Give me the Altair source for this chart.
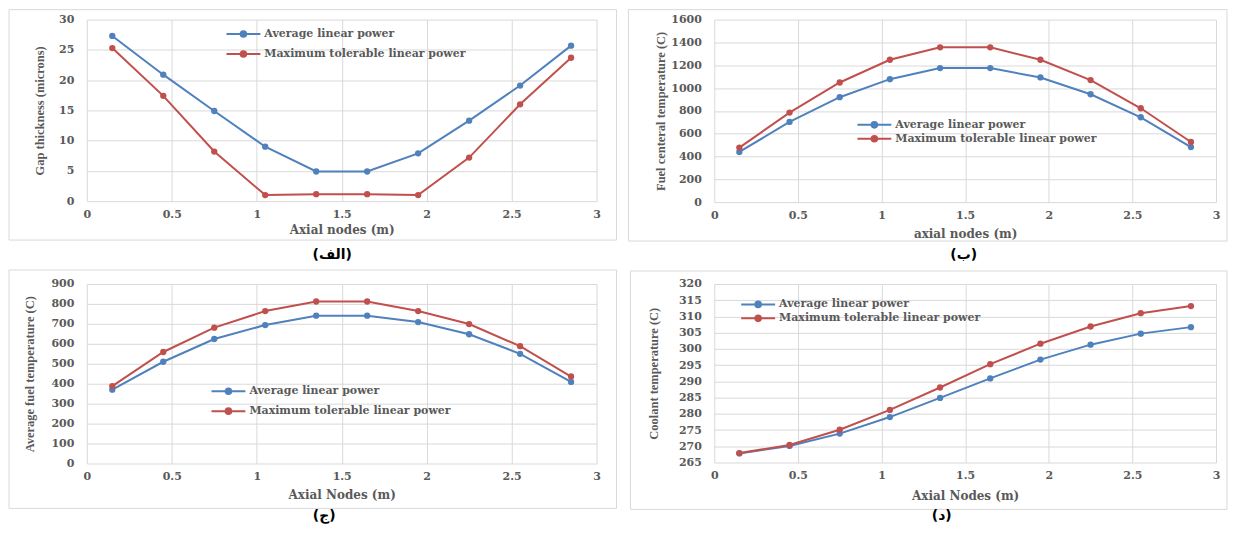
import altair as alt
import pandas as pd

# ---------------- data ----------------
x_nodes = [0.15, 0.45, 0.75, 1.05, 1.35, 1.65, 1.95, 2.25, 2.55, 2.85]
series_names = ["Average linear power", "Maximum tolerable linear power"]
series_colors = ["#4F81BD", "#C0504D"]

gap_avg = [27.3, 20.9, 14.9, 9.0, 4.9, 4.9, 7.9, 13.3, 19.1, 25.7]
gap_max = [25.3, 17.4, 8.2, 1.0, 1.15, 1.15, 1.0, 7.2, 16.0, 23.7]
center_avg = [440, 703, 920, 1078, 1175, 1175, 1093, 946, 744, 483]
center_max = [478, 785, 1049, 1248, 1357, 1357, 1248, 1070, 823, 527]
fuel_avg = [370, 510, 624, 694, 741, 741, 709, 648, 550, 409]
fuel_max = [388, 559, 681, 764, 812, 812, 764, 699, 588, 436]
cool_avg = [267.8, 270.1, 273.9, 279.0, 284.9, 290.9, 296.7, 301.3, 304.7, 306.7]
cool_max = [267.9, 270.4, 275.1, 281.2, 288.1, 295.3, 301.6, 306.9, 311.0, 313.2]

x_ticks = [0, 0.5, 1, 1.5, 2, 2.5, 3]
gap_ticks = [0, 5, 10, 15, 20, 25, 30]
center_ticks = [0, 200, 400, 600, 800, 1000, 1200, 1400, 1600]
fuel_ticks = [0, 100, 200, 300, 400, 500, 600, 700, 800, 900]
cool_ticks = [265, 270, 275, 280, 285, 290, 295, 300, 305, 310, 315, 320]

y_titles = ["Gap thickness (microns)", "Fuel centeral temperature (C)",
            "Average fuel temperature (C)", "Coolant temperature (C)"]
x_titles = ["Axial nodes (m)", "axial nodes (m)", "Axial Nodes (m)", "Axial Nodes (m)"]
captions = ["(الف)", "(ب)", "(ج)", "(د)"]

TXT = "#595959"
GRID = "#d9d9d9"
# legend glyph: a line segment with a (stroked-solid) dot in the middle
SYMBOL = ("M-3.4,0L3.4,0 "
          "M-0.56,0A0.56,0.56,0,1,1,0.56,0A0.56,0.56,0,1,1,-0.56,0Z "
          "M-0.22,0A0.22,0.22,0,1,1,0.22,0A0.22,0.22,0,1,1,-0.22,0Z")


def panel(avg, mx, yticks, ytitle, xtitle, caption, lay):
    df = pd.DataFrame({
        "x": x_nodes + x_nodes,
        "y": avg + mx,
        "series": [series_names[0]] * len(avg) + [series_names[1]] * len(mx),
    })
    cap_df = pd.DataFrame({"caption": [caption]})
    W, H = lay["W"], lay["H"]
    bl, bt, br, bb = lay["box"]
    cl, ct, cr, cb = lay["cell"]

    xenc = alt.X("x:Q", scale=alt.Scale(domain=[x_ticks[0], x_ticks[-1]], nice=False),
                 axis=alt.Axis(values=x_ticks, format="~g", title=xtitle, titleY=lay["xty"],
                               titleBaseline="middle"))
    yenc = alt.Y("y:Q", scale=alt.Scale(domain=[yticks[0], yticks[-1]], nice=False, zero=False),
                 axis=alt.Axis(values=yticks, format="d", title=ytitle, titleX=lay["ytx"],
                               titleBaseline="middle"))
    cscale = alt.Scale(domain=series_names, range=series_colors)
    leg = alt.Legend(orient="none", legendX=lay["lx"], legendY=lay["ly"], title=None,
                     symbolType=SYMBOL, symbolSize=100, symbolStrokeWidth=2,
                     labelFont="DejaVu Serif", labelFontWeight="bold", labelFontSize=11,
                     labelColor=TXT, labelOffset=15, rowPadding=lay["rp"], padding=0,
                     labelLimit=0)

    frame = alt.Chart(cap_df).mark_rect(fillOpacity=0, stroke=GRID, strokeWidth=1).encode(
        x=alt.value(bl), x2=alt.value(br), y=alt.value(bt), y2=alt.value(bb))
    cell = alt.Chart(cap_df).mark_rect(opacity=0).encode(
        x=alt.value(cl), x2=alt.value(cr), y=alt.value(ct), y2=alt.value(cb))
    lines = alt.Chart(df).mark_line(
        strokeWidth=2, point=alt.OverlayMarkDef(filled=True, size=40, opacity=1)
    ).encode(x=xenc, y=yenc, color=alt.Color("series:N", scale=cscale, legend=leg))
    cap = alt.Chart(cap_df).mark_text(font="DejaVu Sans", fontWeight="bold", fontSize=14,
                                      color="black", align="center", baseline="middle").encode(
        x=alt.value(lay["cx"]), y=alt.value(lay["cy"]), text="caption:N")
    return alt.layer(frame, cell, lines, cap).properties(width=W, height=H)


# offsets relative to each plot area's top-left corner; every panel in a column
# shares its left/right extent and every panel in a row shares its top extent
layA = dict(W=511, H=182, box=(-78, -10, 531, 221), cell=(-78, -10, 531, 243),
            cx=246, cy=236, lx=151, ly=8.5, rp=6, ytx=-47, xty=28)
layB = dict(W=503, H=183, box=(-86, -10, 514, 222), cell=(-87, -10, 514, 243),
            cx=250, cy=236, lx=154.5, ly=99.5, rp=0, ytx=-54, xty=31)
layC = dict(W=511, H=180, box=(-78, -14, 531, 225), cell=(-78, -22, 531, 226),
            cx=238, cy=233, lx=136, ly=101.5, rp=6, ytx=-57, xty=31)
layD = dict(W=503, H=179, box=(-84, -13, 514, 226), cell=(-87, -22, 514, 226),
            cx=228, cy=233, lx=38, ly=14.5, rp=0, ytx=-61, xty=33)

pA = panel(gap_avg, gap_max, gap_ticks, y_titles[0], x_titles[0], captions[0], layA)
pB = panel(center_avg, center_max, center_ticks, y_titles[1], x_titles[1], captions[1], layB)
pC = panel(fuel_avg, fuel_max, fuel_ticks, y_titles[2], x_titles[2], captions[2], layC)
pD = panel(cool_avg, cool_max, cool_ticks, y_titles[3], x_titles[3], captions[3], layD)

chart = (
    alt.concat(pA, pB, pC, pD, columns=2, spacing={"row": 0, "column": 10},
               align="each", bounds="full")
    .resolve_scale(color="independent")
    .resolve_legend(color="independent")
    .properties(padding=0, background="white")
    .configure(padding=0)
    .configure_view(stroke=None)
    .configure_axis(labelFont="DejaVu Serif", labelFontWeight="bold", labelFontSize=11,
                    labelColor=TXT, titleColor=TXT, gridColor=GRID, gridWidth=1,
                    domain=False, ticks=False, tickSize=0, labelFlush=False, labelOverlap=False,
                    titleFontWeight="bold")
    .configure_axisX(labelPadding=7, titleFont="DejaVu Serif", titleFontSize=12)
    .configure_axisY(labelPadding=13, titleFont="Liberation Serif", titleFontSize=12.5)
)

chart.save("out.html", embed_options={"renderer": "svg", "actions": False})
